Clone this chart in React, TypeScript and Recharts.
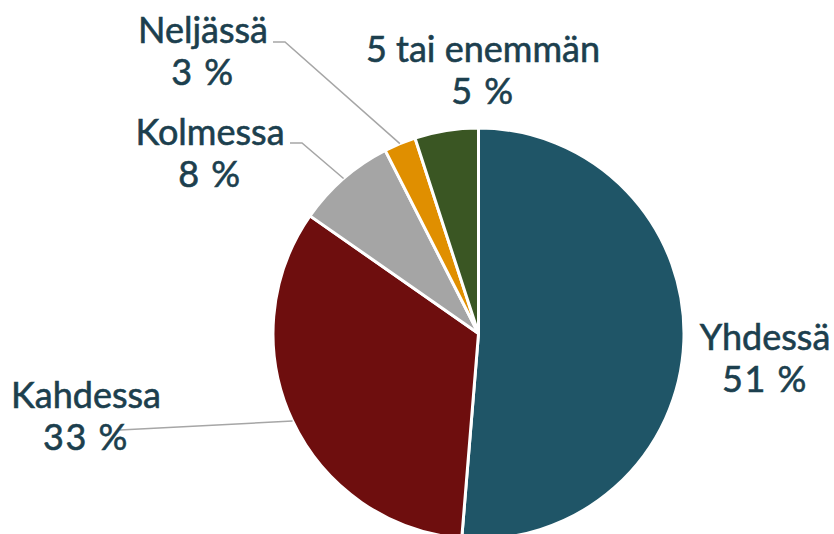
import React from "react";
import { PieChart, Pie, Cell } from "recharts";

const categories = ["Yhdessä", "Kahdessa", "Kolmessa", "Neljässä", "5 tai enemmän"];
const values = [51.3, 33.4, 7.8, 2.5, 5.0];
const percentLabels = ["51 %", "33 %", "8 %", "3 %", "5 %"];

const colors = ["#1F5567", "#6E0E0E", "#A5A5A5", "#E08F00", "#3A5623"];
// label centre (relative to pie centre), leader style
const labelLayout = [
  { ox: 286.5, oy: 16.5, leader: "none", sx: 0, sy: 0 },
  { ox: -392.5, oy: 74.5, leader: "straight", sx: 34, sy: 22 },
  { ox: -268.5, oy: -188.5, leader: "elbow", sx: 80, sy: -2 },
  { ox: -275.5, oy: -290.5, leader: "elbow", sx: 70, sy: -1 },
  { ox: 4.5, oy: -271.5, leader: "none", sx: 0, sy: 0 },
];

const data = categories.map((name, i) => ({ name, value: values[i], pct: percentLabels[i] }));

const RAD = Math.PI / 180;
const textColor = "#1C3F4E";
const fontSize = 36;
const lineGap = 42;

const renderLabel = (props: any) => {
  const { cx, cy, outerRadius, midAngle, index } = props;
  const lay = labelLayout[index];
  const lx = cx + lay.ox;
  const ly = cy + lay.oy;
  const px = cx + outerRadius * Math.cos(-midAngle * RAD);
  const py = cy + outerRadius * Math.sin(-midAngle * RAD);
  const ex = lx + lay.sx;
  const ey = ly + lay.sy;
  let leader = null;
  if (lay.leader === "elbow") {
    leader = (
      <polyline
        points={`${ex},${ey} ${ex + 12},${ey} ${px},${py}`}
        fill="none"
        stroke="#A6A6A6"
        strokeWidth={1.5}
      />
    );
  } else if (lay.leader === "straight") {
    leader = <line x1={ex} y1={ey} x2={px} y2={py} stroke="#A6A6A6" strokeWidth={1.5} />;
  }
  return (
    <g key={`lab-${index}`}>
      {leader}
      <text
        x={lx}
        y={ly}
        textAnchor="middle"
        fill={textColor}
        stroke={textColor}
        strokeWidth={0.6}
        fontSize={fontSize}
        fontFamily="Lato, sans-serif"
      >
        <tspan x={lx} dy={0}>{categories[index]}</tspan>
        <tspan x={lx} dy={lineGap} letterSpacing={1.5}>{data[index].pct}</tspan>
      </text>
    </g>
  );
};

export default function App() {
  return (
    <div style={{ position: "absolute", left: 0, top: 0, background: "#fff" }}>
      <PieChart width={834} height={534} margin={{ top: 0, right: 0, bottom: 0, left: 0 }}>
        <Pie
          data={data}
          dataKey="value"
          nameKey="name"
          cx={478.5}
          cy={333.5}
          outerRadius={205.5}
          startAngle={90}
          endAngle={-270}
          stroke="#FFFFFF"
          strokeWidth={3}
          label={renderLabel}
          labelLine={false}
          isAnimationActive={false}
        >
          {data.map((d, i) => (
            <Cell key={d.name} fill={colors[i]} />
          ))}
        </Pie>
      </PieChart>
    </div>
  );
}
